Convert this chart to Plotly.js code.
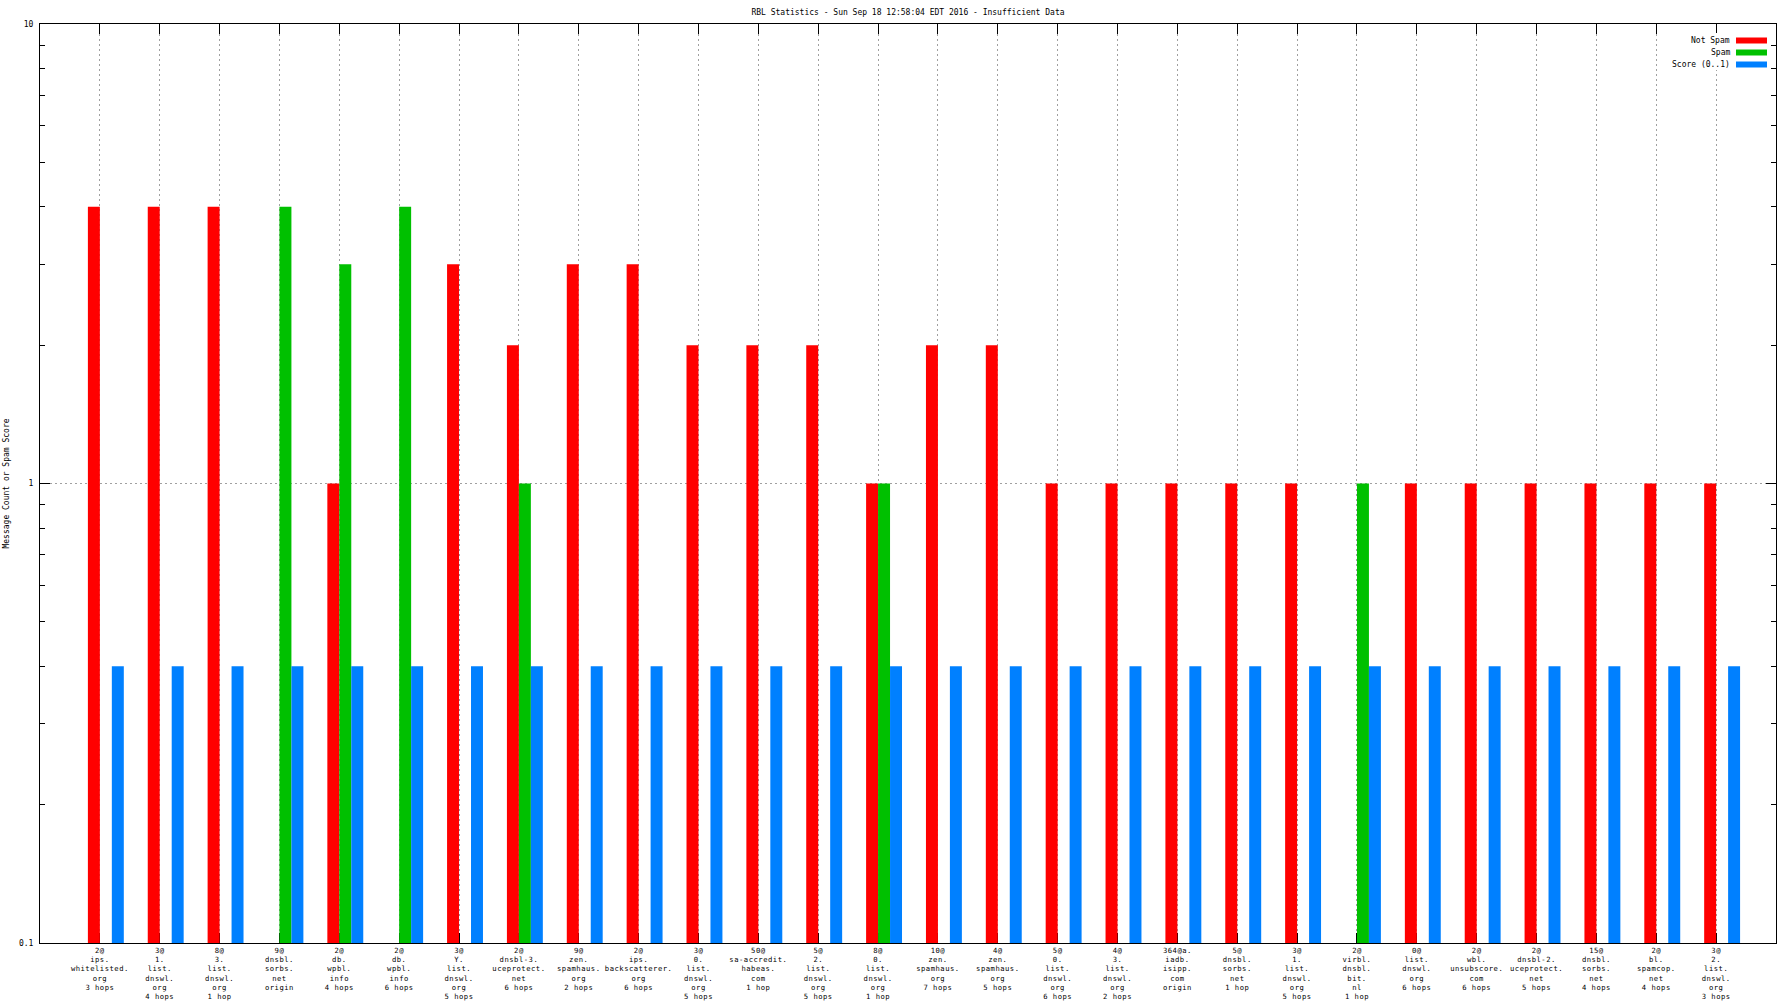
<!DOCTYPE html>
<html>
<head>
<meta charset="utf-8">
<script src="https://cdn.plot.ly/plotly-3.0.1.min.js"></script>
<style>
html,body{margin:0;padding:0;background:#fff;}
#chart{width:1792px;height:1008px;}
#chart .xtick text{letter-spacing:0.5px;}
</style>
</head>
<body>
<div id="chart"></div>
<script>
// ---- data ----
const categories = [
  "2@<br>ips.<br>whitelisted.<br>org<br>3 hops",
  "3@<br>1.<br>list.<br>dnswl.<br>org<br>4 hops",
  "8@<br>3.<br>list.<br>dnswl.<br>org<br>1 hop",
  "9@<br>dnsbl.<br>sorbs.<br>net<br>origin",
  "2@<br>db.<br>wpbl.<br>info<br>4 hops",
  "2@<br>db.<br>wpbl.<br>info<br>6 hops",
  "3@<br>Y.<br>list.<br>dnswl.<br>org<br>5 hops",
  "2@<br>dnsbl-3.<br>uceprotect.<br>net<br>6 hops",
  "9@<br>zen.<br>spamhaus.<br>org<br>2 hops",
  "2@<br>ips.<br>backscatterer.<br>org<br>6 hops",
  "3@<br>0.<br>list.<br>dnswl.<br>org<br>5 hops",
  "50@<br>sa-accredit.<br>habeas.<br>com<br>1 hop",
  "5@<br>2.<br>list.<br>dnswl.<br>org<br>5 hops",
  "8@<br>0.<br>list.<br>dnswl.<br>org<br>1 hop",
  "10@<br>zen.<br>spamhaus.<br>org<br>7 hops",
  "4@<br>zen.<br>spamhaus.<br>org<br>5 hops",
  "5@<br>0.<br>list.<br>dnswl.<br>org<br>6 hops",
  "4@<br>3.<br>list.<br>dnswl.<br>org<br>2 hops",
  "364@a.<br>iadb.<br>isipp.<br>com<br>origin",
  "5@<br>dnsbl.<br>sorbs.<br>net<br>1 hop",
  "3@<br>1.<br>list.<br>dnswl.<br>org<br>5 hops",
  "2@<br>virbl.<br>dnsbl.<br>bit.<br>nl<br>1 hop",
  "0@<br>list.<br>dnswl.<br>org<br>6 hops",
  "2@<br>wbl.<br>unsubscore.<br>com<br>6 hops",
  "2@<br>dnsbl-2.<br>uceprotect.<br>net<br>5 hops",
  "15@<br>dnsbl.<br>sorbs.<br>net<br>4 hops",
  "2@<br>bl.<br>spamcop.<br>net<br>4 hops",
  "3@<br>2.<br>list.<br>dnswl.<br>org<br>3 hops"
];
const notSpam = [4,4,4,null,1,null,3,2,3,3,2,2,2,1,2,2,1,1,1,1,1,null,1,1,1,1,1,1];
const spam    = [null,null,null,4,3,4,null,1,null,null,null,null,null,1,null,null,null,null,null,null,null,1,null,null,null,null,null,null];
const score   = [0.4,0.4,0.4,0.4,0.4,0.4,0.4,0.4,0.4,0.4,0.4,0.4,0.4,0.4,0.4,0.4,0.4,0.4,0.4,0.4,0.4,0.4,0.4,0.4,0.4,0.4,0.4,0.4];
const seriesNames = ["Not Spam", "Spam", "Score (0..1)"];
const yTickVals = [0.1, 1, 10];
const yTickText = ["0.1", "1", "10"];
const yMinorVals = [0.2,0.3,0.4,0.5,0.6,0.7,0.8,0.9,2,3,4,5,6,7,8,9];
const titleText = "RBL Statistics - Sun Sep 18 12:58:04 EDT 2016 - Insufficient Data";
const yTitle = "Message Count or Spam Score";

// ---- build ----
const positions = categories.map((_, i) => i + 1);
const colors = ["#ff0000", "#00c000", "#0080ff"];
const FONT = "DejaVu Sans Mono, Liberation Mono, monospace";
const GRID = "#a0a0a0";
const DASH = "2px,3px";

const traces = [notSpam, spam, score].map((vals, k) => ({
  type: "bar",
  name: seriesNames[k],
  x: positions,
  y: vals,
  width: 0.2,
  offset: -0.2 + 0.2 * k,
  marker: {color: colors[k], line: {width: 0}},
  showlegend: false,
  hoverinfo: "skip"
}));

// legend (gnuplot-style: text left of swatch)
const plotL = 40, plotR = 1776, plotT = 24, plotB = 943;
const pw = plotR - plotL, ph = plotB - plotT;
const px = v => (v - plotL) / pw;
const py = v => 1 - (v - plotT) / ph;
const rowY = [40.5, 52.5, 64.5];
const annotations = seriesNames.map((n, k) => ({
  xref: "paper", yref: "paper",
  x: px(1732), y: py(rowY[k]),
  xanchor: "right", yanchor: "middle",
  text: n, showarrow: false,
  font: {family: FONT, size: 8, color: "#000"}
}));
const shapes = [{
  type: "rect", xref: "paper", yref: "paper", layer: "above",
  x0: px(1686), x1: px(1770), y0: py(33), y1: py(70),
  fillcolor: "#fff", line: {width: 0}
}].concat(seriesNames.map((n, k) => ({
  type: "rect", xref: "paper", yref: "paper", layer: "above",
  x0: px(1736), x1: px(1767), y0: py(rowY[k] + 3), y1: py(rowY[k] - 3),
  fillcolor: colors[k], line: {width: 0}
})));

const layout = {
  width: 1792, height: 1008,
  margin: {l: plotL, r: 1792 - plotR, t: plotT, b: 1008 - plotB, pad: 0},
  paper_bgcolor: "#fff", plot_bgcolor: "#fff",
  barmode: "overlay",
  showlegend: false,
  font: {family: FONT, size: 8, color: "#000"},
  title: {
    text: titleText,
    font: {family: FONT, size: 8, color: "#000"},
    xref: "paper", x: 0.5, xanchor: "center",
    yref: "container", y: 1 - 12 / 1008, yanchor: "middle"
  },
  xaxis: {
    type: "linear", range: [0, 29],
    tickmode: "array", tickvals: positions, ticktext: categories,
    ticks: "inside", ticklen: 10, tickcolor: "#000", tickwidth: 1,
    showline: true, linecolor: "#000", linewidth: 1, mirror: "ticks",
    showgrid: true, gridcolor: GRID, griddash: DASH, gridwidth: 1,
    zeroline: false, layer: "below traces",
    tickangle: 0,
    tickfont: {family: FONT, size: 7.2, color: "#000"},
    automargin: false, fixedrange: true
  },
  yaxis: {
    type: "log", range: [-1, 1],
    tickmode: "array", tickvals: yTickVals, ticktext: yTickText,
    ticks: "inside", ticklen: 10, tickcolor: "#000", tickwidth: 1,
    showline: true, linecolor: "#000", linewidth: 1, mirror: "ticks",
    showgrid: true, gridcolor: GRID, griddash: DASH, gridwidth: 1,
    zeroline: false, layer: "below traces",
    minor: {tickmode: "array", tickvals: yMinorVals, ticks: "inside", ticklen: 5, tickcolor: "#000", tickwidth: 1, showgrid: false},
    tickfont: {family: FONT, size: 8, color: "#000"},
    ticklabelstandoff: 4,
    title: {text: yTitle, font: {family: FONT, size: 8, color: "#000"}, standoff: 8},
    automargin: false, fixedrange: true
  },
  annotations: annotations,
  shapes: shapes
};

Plotly.newPlot("chart", traces, layout, {displayModeBar: false, staticPlot: true});
</script>
</body>
</html>
